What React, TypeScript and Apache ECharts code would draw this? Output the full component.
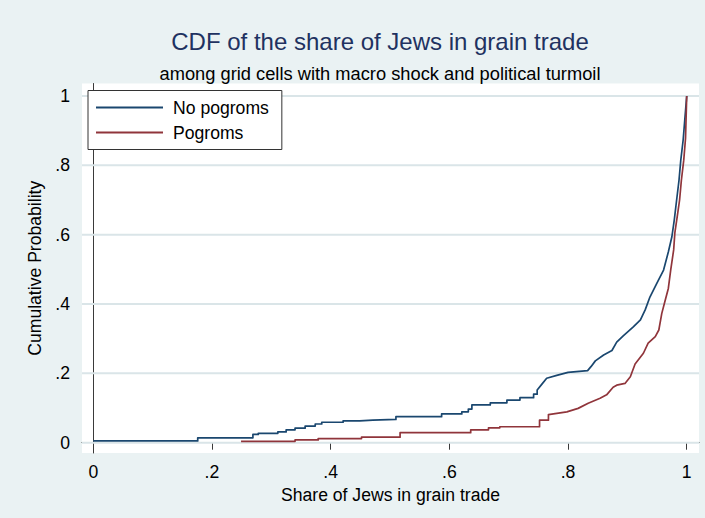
import React, { useEffect, useRef } from "react";
import * as echarts from "echarts";

const titleText = "CDF of the share of Jews in grain trade";
const subtitleText = "among grid cells with macro shock and political turmoil";
const xAxisTitle = "Share of Jews in grain trade";
const yAxisTitle = "Cumulative Probability";
const seriesNames = ["No pogroms", "Pogroms"];

const tickValues = [0, 0.2, 0.4, 0.6, 0.8, 1];
const gridValues = [0, 0.2, 0.4, 0.6, 0.8, 1];

// [share, cumulative probability] at each visible jump of the lower, stair-like part
const noPogromsSteps: [number, number][] = [
  [0, 0.005], [0.176, 0.014], [0.269, 0.024], [0.278, 0.027], [0.311, 0.031],
  [0.325, 0.037], [0.34, 0.042], [0.357, 0.048], [0.374, 0.054], [0.385, 0.059],
  [0.421, 0.063], [0.449, 0.065], [0.471, 0.067], [0.51, 0.075], [0.587, 0.083],
  [0.621, 0.089], [0.632, 0.097], [0.638, 0.109], [0.669, 0.115], [0.697, 0.123],
  [0.719, 0.13], [0.742, 0.14],
];
// dense upper part, where the jumps merge into a continuous curve
const noPogromsTail: [number, number][] = [
  [0.748, 0.152], [0.756, 0.169], [0.764, 0.186], [0.781, 0.194], [0.8, 0.203],
  [0.833, 0.208], [0.839, 0.22], [0.846, 0.236], [0.86, 0.253], [0.874, 0.266],
  [0.882, 0.29], [0.893, 0.308], [0.91, 0.334], [0.922, 0.354], [0.93, 0.383],
  [0.938, 0.42], [0.95, 0.461], [0.961, 0.498], [0.969, 0.55], [0.975, 0.594],
  [0.979, 0.642], [0.983, 0.7], [0.987, 0.757], [0.99, 0.815], [0.994, 0.873],
  [0.997, 0.937], [1.0, 1.0],
];

const pogromsSteps: [number, number][] = [
  [0.249, 0.004], [0.34, 0.008], [0.379, 0.012], [0.452, 0.016], [0.517, 0.029],
  [0.636, 0.037], [0.666, 0.043], [0.685, 0.046], [0.752, 0.065],
];
const pogromsTail: [number, number][] = [
  [0.767, 0.081], [0.798, 0.089], [0.817, 0.099], [0.834, 0.114], [0.854, 0.128],
  [0.865, 0.138], [0.876, 0.16], [0.882, 0.166], [0.896, 0.171], [0.905, 0.19],
  [0.913, 0.227], [0.927, 0.258], [0.935, 0.287], [0.947, 0.306], [0.953, 0.325],
  [0.958, 0.373], [0.963, 0.406], [0.969, 0.445], [0.973, 0.498], [0.978, 0.556],
  [0.98, 0.605], [0.984, 0.652], [0.988, 0.7], [0.991, 0.757], [0.995, 0.815],
  [0.998, 0.878], [1.0, 1.0],
];

// stair vertices from the jump points, then the dense tail joined directly
function buildPath(steps: [number, number][], tail: [number, number][]) {
  const out: [number, number][] = [];
  steps.forEach((p, i) => {
    if (i > 0) out.push([p[0], steps[i - 1][1]]);
    out.push(p);
  });
  const last = steps[steps.length - 1];
  if (tail.length) out.push([tail[0][0], last[1]]);
  return out.concat(tail);
}

const FONT = "'Liberation Sans', Arial, Helvetica, sans-serif";
const AXIS_COLOR = "#3a3a3a";
const BLUE = "#1a476f";
const RED = "#90353b";
const GRID_COLOR = "#dae5e8";

const PLOT = { left: 82, top: 83.5, right: 6, bottom: 65 };
const X_MIN = -0.019;
const X_MAX = 1.0207;

const fmt = (v: number) => {
  if (v === 0) return "0";
  if (v === 1) return "1";
  return String(v).replace(/^0/, "");
};

export default function App() {
  const ref = useRef<HTMLDivElement>(null);
  useEffect(() => {
    if (!ref.current) return;
    const chart = echarts.init(ref.current, null, { renderer: "svg" });
    const W = 705;
    const H = 518;
    const gridSeries = gridValues.map((v, i) => ({
      type: "line",
      name: "grid" + i,
      data: [[X_MIN, v], [X_MAX, v]],
      showSymbol: false,
      symbol: "none",
      silent: true,
      z: 1,
      lineStyle: { color: GRID_COLOR, width: 2 },
      itemStyle: { color: GRID_COLOR },
      emphasis: { disabled: true },
      tooltip: { show: false },
    }));
    const option: any = {
      animation: false,
      backgroundColor: "#eaf2f3",
      textStyle: { fontFamily: FONT },
      graphic: [
        {
          type: "rect",
          z: -10,
          silent: true,
          shape: {
            x: PLOT.left,
            y: PLOT.top,
            width: W - PLOT.left - PLOT.right,
            height: H - PLOT.top - PLOT.bottom,
          },
          style: { fill: "#ffffff" },
        },
      ],
      title: [
        {
          text: titleText,
          left: 380,
          top: 29,
          textAlign: "center",
          padding: 0,
          textStyle: { fontFamily: FONT, fontSize: 24, fontWeight: "normal", color: "#1f3261" },
        },
        {
          text: subtitleText,
          left: 380,
          top: 64.5,
          textAlign: "center",
          padding: 0,
          textStyle: { fontFamily: FONT, fontSize: 18.3, fontWeight: "normal", color: "#000" },
        },
      ],
      legend: {
        orient: "vertical",
        left: 88,
        top: 90.5,
        z: 10,
        padding: [8, 13, 8, 8],
        itemGap: 7,
        itemWidth: 67,
        itemHeight: 2,
        icon: "rect",
        backgroundColor: "#fff",
        borderColor: "#333",
        borderWidth: 1,
        borderRadius: 0,
        textStyle: { fontFamily: FONT, fontSize: 17.6, color: "#000", padding: [0, 0, 0, 5] },
        data: seriesNames,
      },
      grid: {
        left: PLOT.left,
        right: PLOT.right,
        top: PLOT.top,
        bottom: PLOT.bottom,
        show: false,
      },
      xAxis: {
        type: "value",
        min: X_MIN,
        max: X_MAX,
        name: xAxisTitle,
        nameLocation: "middle",
        nameGap: 31,
        nameTextStyle: { fontFamily: FONT, fontSize: 17.6, color: "#000" },
        axisLine: { show: true, lineStyle: { color: AXIS_COLOR, width: 1 } },
        axisTick: { show: true, length: 7, customValues: tickValues, lineStyle: { color: AXIS_COLOR, width: 1 } },
        axisLabel: {
          customValues: tickValues,
          formatter: fmt,
          margin: 10,
          fontFamily: FONT,
          fontSize: 17.6,
          color: "#000",
        },
        splitLine: { show: false },
      },
      yAxis: {
        type: "value",
        min: -0.0297,
        max: 1.036,
        name: yAxisTitle,
        nameLocation: "middle",
        nameGap: 35,
        nameRotate: 90,
        nameTextStyle: { fontFamily: FONT, fontSize: 17.6, color: "#000" },
        axisLine: { show: true, lineStyle: { color: AXIS_COLOR, width: 1 } },
        axisTick: { show: true, length: 7, customValues: tickValues, lineStyle: { color: AXIS_COLOR, width: 1 } },
        axisLabel: {
          customValues: tickValues,
          formatter: fmt,
          margin: 12,
          fontFamily: FONT,
          fontSize: 17.6,
          color: "#000",
        },
        splitLine: { show: false },
      },
      series: [
        ...gridSeries,
        {
          type: "line",
          name: seriesNames[0],
          data: buildPath(noPogromsSteps, noPogromsTail),
          showSymbol: false,
          symbol: "none",
          z: 3,
          lineStyle: { color: BLUE, width: 1.7, join: "round" },
          itemStyle: { color: BLUE },
        },
        {
          type: "line",
          name: seriesNames[1],
          data: buildPath(pogromsSteps, pogromsTail),
          showSymbol: false,
          symbol: "none",
          z: 4,
          lineStyle: { color: RED, width: 1.7, join: "round" },
          itemStyle: { color: RED },
        },
      ],
    };
    chart.setOption(option);
    return () => chart.dispose();
  }, []);
  return (
    <div
      ref={ref}
      style={{ position: "fixed", left: 0, top: 0, width: 705, height: 518 }}
    />
  );
}
